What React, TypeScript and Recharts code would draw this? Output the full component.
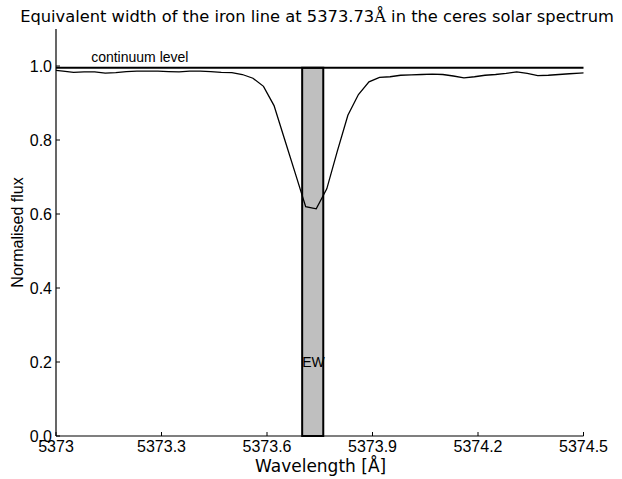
import React from 'react';
import { LineChart, Line, XAxis, YAxis, ReferenceArea, ReferenceLine, ReferenceDot } from 'recharts';

const wavelengths = [
  5372.99, 5373.02, 5373.05, 5373.08, 5373.11, 5373.14, 5373.17, 5373.20, 5373.23, 5373.26,
  5373.29, 5373.32, 5373.35, 5373.38, 5373.41, 5373.44, 5373.47, 5373.50, 5373.53, 5373.56,
  5373.59, 5373.62, 5373.65, 5373.68, 5373.71, 5373.74, 5373.77, 5373.80, 5373.83, 5373.86,
  5373.89, 5373.92, 5373.95, 5373.98, 5374.01, 5374.04, 5374.07, 5374.10, 5374.13, 5374.16,
  5374.19, 5374.22, 5374.25, 5374.28, 5374.31, 5374.34, 5374.37, 5374.40, 5374.43, 5374.46,
  5374.49, 5374.52,
];
const flux = [
  0.989, 0.986, 0.983, 0.984, 0.984, 0.981, 0.982, 0.985, 0.986, 0.986,
  0.986, 0.985, 0.984, 0.986, 0.986, 0.985, 0.983, 0.982, 0.977, 0.967,
  0.945, 0.893, 0.802, 0.711, 0.620, 0.614, 0.668, 0.770, 0.867, 0.923,
  0.957, 0.969, 0.971, 0.975, 0.976, 0.977, 0.978, 0.977, 0.973, 0.968,
  0.971, 0.975, 0.977, 0.980, 0.984, 0.980, 0.974, 0.975, 0.977, 0.979,
  0.981, 0.982,
];
const xTicks = [5373, 5373.3, 5373.6, 5373.9, 5374.2, 5374.5];
const xTickLabels = ['5373', '5373.3', '5373.6', '5373.9', '5374.2', '5374.5'];
const yTicks = [0, 0.2, 0.4, 0.6, 0.8, 1.0];
const yTickLabels = ['0.0', '0.2', '0.4', '0.6', '0.8', '1.0'];
const continuumLevel = 0.995;
const ewStart = 5373.70;
const ewEnd = 5373.76;
const ewLabelPos = { x: 5373.70, y: 0.2 };
const continuumLabelPos = { x: 5373.1, y: 1.01 };

const data = wavelengths.map((w, i) => ({ w, f: flux[i] }));

const SANS = '"Liberation Sans", Arial, sans-serif';
const DEJAVU = '"DejaVu Sans", sans-serif';
const TICK = 4;

const BottomTick = (props: any) => {
  const { x, y, index } = props;
  return (
    <g>
      <line x1={x} y1={y} x2={x} y2={y - TICK} stroke="#000" strokeWidth={1} />
      <text x={x} y={y + 16} textAnchor="middle" fontFamily={SANS} fontSize={16} fill="#000">
        {xTickLabels[index]}
      </text>
    </g>
  );
};
const TopTick = (props: any) => {
  const { x, y } = props;
  return <line x1={x} y1={y} x2={x} y2={y + TICK} stroke="#000" strokeWidth={1} />;
};
const LeftTick = (props: any) => {
  const { x, y, index } = props;
  return (
    <g>
      <line x1={x} y1={y} x2={x + TICK} y2={y} stroke="#000" strokeWidth={1} />
      <text x={x - 4} y={y} dy="0.36em" textAnchor="end" fontFamily={SANS} fontSize={16} fill="#000">
        {yTickLabels[index]}
      </text>
    </g>
  );
};
const RightTick = (props: any) => {
  const { x, y } = props;
  return <line x1={x} y1={y} x2={x - TICK} y2={y} stroke="#000" strokeWidth={1} />;
};

const EwText = (props: any) => (
  <text x={props.cx} y={props.cy} dy="0.36em" textAnchor="start" fontFamily={SANS} fontSize={14} fill="#000">
    EW
  </text>
);
const ContinuumText = (props: any) => (
  <text x={props.cx} y={props.cy} textAnchor="start" fontFamily={SANS} fontSize={14} fill="#000">
    continuum level
  </text>
);

export default function App() {
  return (
    <div style={{ position: 'fixed', left: 0, top: 0, width: 622, height: 479, background: '#fff' }}>
      <LineChart
        width={622}
        height={479}
        data={data}
        margin={{ top: 29, right: 38.5, left: 0, bottom: 0 }}
      >
        <XAxis
          xAxisId="b"
          dataKey="w"
          type="number"
          domain={[5373, 5374.5]}
          allowDataOverflow
          ticks={xTicks}
          interval={0}
          orientation="bottom"
          height={43}
          tickSize={0}
          tickMargin={0}
          tickLine={false}
          axisLine={{ stroke: '#000', strokeWidth: 1.2 }}
          tick={<BottomTick />}
        />
        <XAxis
          xAxisId="t"
          dataKey="w"
          type="number"
          domain={[5373, 5374.5]}
          allowDataOverflow
          ticks={xTicks}
          interval={0}
          orientation="top"
          height={0}
          tickSize={0}
          tickMargin={0}
          tickLine={false}
          axisLine={{ stroke: '#000', strokeWidth: 1.2 }}
          tick={<TopTick />}
        />
        <YAxis
          yAxisId="l"
          type="number"
          domain={[0, 1.1]}
          allowDataOverflow
          ticks={yTicks}
          interval={0}
          orientation="left"
          width={56}
          tickSize={0}
          tickMargin={0}
          tickLine={false}
          axisLine={{ stroke: '#000', strokeWidth: 1.2 }}
          tick={<LeftTick />}
        />
        <YAxis
          yAxisId="r"
          type="number"
          domain={[0, 1.1]}
          allowDataOverflow
          ticks={yTicks}
          interval={0}
          orientation="right"
          width={0}
          tickSize={0}
          tickMargin={0}
          tickLine={false}
          axisLine={{ stroke: '#000', strokeWidth: 1.2 }}
          tick={<RightTick />}
        />
        <ReferenceArea
          xAxisId="b"
          yAxisId="l"
          x1={ewStart}
          x2={ewEnd}
          y1={0}
          y2={continuumLevel}
          fill="#bfbfbf"
          fillOpacity={1}
          stroke="#000"
          strokeWidth={2}
        />
        <ReferenceLine xAxisId="b" yAxisId="l" y={continuumLevel} stroke="#000" strokeWidth={2} />
        <Line
          xAxisId="b"
          yAxisId="l"
          dataKey="f"
          type="linear"
          stroke="#000"
          strokeWidth={1.3}
          dot={false}
          isAnimationActive={false}
        />
        <ReferenceDot xAxisId="b" yAxisId="l" x={ewLabelPos.x} y={ewLabelPos.y} r={1} shape={<EwText />} />
        <ReferenceDot
          xAxisId="b"
          yAxisId="l"
          x={continuumLabelPos.x}
          y={continuumLabelPos.y}
          r={1}
          shape={<ContinuumText />}
        />
      </LineChart>
      <svg width={622} height={479} style={{ position: 'absolute', left: 0, top: 0, pointerEvents: 'none' }}>
        <text x={317} y={22} textAnchor="middle" fontFamily={DEJAVU} fontSize={16.3} fill="#000">
          Equivalent width of the iron line at 5373.73
          <tspan fontFamily='"DejaVu Serif", serif'>Å</tspan> in the ceres solar spectrum
        </text>
        <text x={255} y={472} textAnchor="start" fontFamily={DEJAVU} fontSize={17} fill="#000">
          Wavelength [Å]
        </text>
        <text
          x={23}
          y={232.5}
          textAnchor="middle"
          transform="rotate(-90 23 232.5)"
          fontFamily={SANS}
          fontSize={16}
          fill="#000"
        >
          Normalised flux
        </text>
      </svg>
    </div>
  );
}
